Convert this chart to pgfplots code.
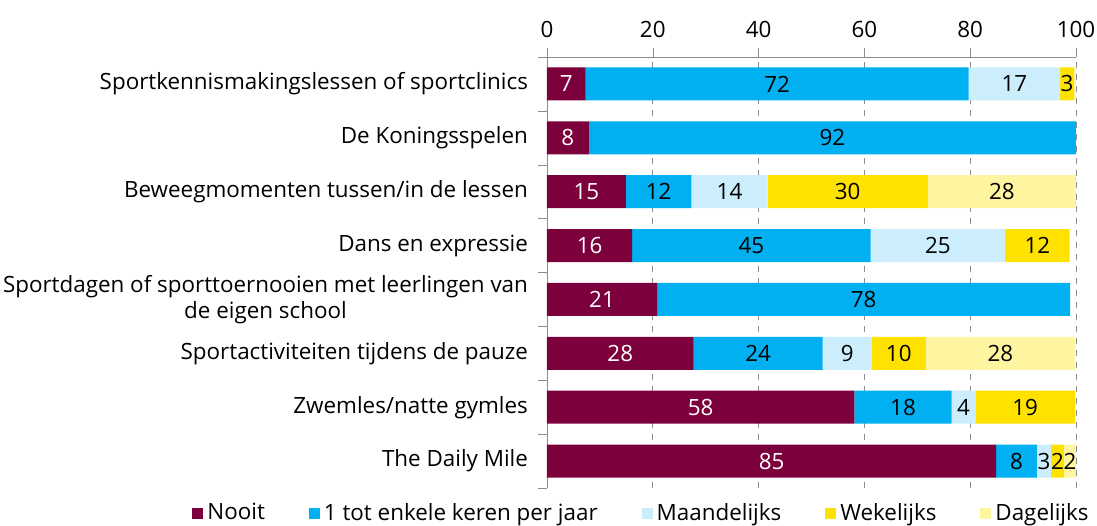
\documentclass[border=0pt]{standalone}
\usepackage{fontspec}
\setmainfont{Open Sans}
\usepackage{pgfplots}
\usepackage{pgfplotstable}
\pgfplotsset{compat=1.18}
\definecolor{cN}{RGB}{124,0,60}
\definecolor{cB}{RGB}{0,176,240}
\definecolor{cL}{RGB}{204,238,252}
\definecolor{cW}{RGB}{255,226,0}
\definecolor{cD}{RGB}{255,245,160}
\definecolor{axgray}{RGB}{140,140,140}
\newcommand{\fnt}{\fontsize{11.2}{13.2}\selectfont}
\pgfplotsset{sqlegend/.style={legend image code/.code={\fill[##1] (0pt,-2.75pt) rectangle (5.5pt,2.75pt);}}}
\pgfplotstableread{
y N B L W D
7 7.3 72.4 17.3 2.6 0.4
6 7.9 92.1 0 0 0
5 14.9 12.4 14.4 30.3 28.0
4 16.1 45.1 25.4 12.2 0
3 20.8 78.1 0 0 0
2 27.7 24.4 9.3 10.2 28.2
1 58.1 18.4 4.5 18.8 0
0 84.9 7.7 2.7 2.4 2.3
}\data
\pgfplotstableread{
x y l
3.65 7 7
3.95 6 8
7.45 5 15
8.05 4 16
10.4 3 21
13.85 2 28
29.05 1 58
42.45 0 85
}\whitelabels
\pgfplotstableread{
x y l
43.5 7 72
88.35 7 17
98.3 7 3
53.95 6 92
21.1 5 12
34.5 5 14
56.85 5 30
86.0 5 28
38.65 4 45
73.9 4 25
92.7 4 12
59.85 3 78
39.9 2 24
56.75 2 9
66.5 2 10
85.7 2 28
67.3 1 18
78.75 1 4
90.4 1 19
88.75 0 8
93.95 0 3
96.5 0 2
98.85 0 2
}\blacklabels
\begin{document}
\begin{tikzpicture}
\path[use as bounding box] (-273.5pt,-18.5pt) rectangle (275pt,244pt);
\begin{axis}[
  at={(0,0)}, anchor=south west,
  width=264.5pt, height=215.5pt, scale only axis,
  xmin=0, xmax=100, ymin=-0.5, ymax=7.5,
  xbar stacked, bar width=16.5pt,
  axis x line*=top, axis y line*=left,
  axis line style={axgray},
  xtick={0,20,...,100},
  ytick={0,...,7},
  yticklabels={The Daily Mile, Zwemles/natte gymles, Sportactiviteiten tijdens de pauze, {Sportdagen of sporttoernooien met leerlingen van\\de eigen school}, Dans en expressie, Beweegmomenten tussen/in de lessen, De Koningsspelen, Sportkennismakingslessen of sportclinics},
  minor ytick={-0.5,0.5,...,7.5},
  tick align=outside,
  major tick length=4.5pt, minor tick length=4.5pt,
  major x tick style={axgray},
  major y tick style={draw=none},
  minor y tick style={axgray},
  xmajorgrids, major grid style={dashed, axgray},
  tick label style={font=\fnt},
  yticklabel style={align=center, xshift=-1.5pt},
  xticklabel style={yshift=1.5pt},
  /pgf/number format/assume math mode=true,
  legend columns=5,
  legend style={draw=none, fill=none, font=\fnt, at={(0.1805,-0.058)}, anchor=center,
    /tikz/every even column/.append style={column sep=20pt}},
]
\addplot[fill=cN, draw=none, sqlegend] table[x=N, y=y] {\data};
\addplot[fill=cB, draw=none, sqlegend] table[x=B, y=y] {\data};
\addplot[fill=cL, draw=none, sqlegend] table[x=L, y=y] {\data};
\addplot[fill=cW, draw=none, sqlegend] table[x=W, y=y] {\data};
\addplot[fill=cD, draw=none, sqlegend] table[x=D, y=y] {\data};
\legend{Nooit, 1 tot enkele keren per jaar, Maandelijks, Wekelijks, Dagelijks}
\end{axis}
\begin{axis}[
  at={(0,0)}, anchor=south west,
  width=264.5pt, height=215.5pt, scale only axis,
  xmin=0, xmax=100, ymin=-0.5, ymax=7.5,
  hide axis,
]
\addplot[only marks, mark=none, nodes near coords, point meta=explicit symbolic,
  every node near coord/.style={anchor=center, text=white, font=\fnt, inner sep=0pt}]
  table[x=x, y=y, meta=l] {\whitelabels};
\addplot[only marks, mark=none, nodes near coords, point meta=explicit symbolic,
  every node near coord/.style={anchor=center, text=black, font=\fnt, inner sep=0pt}]
  table[x=x, y=y, meta=l] {\blacklabels};
\end{axis}
\end{tikzpicture}
\end{document}
